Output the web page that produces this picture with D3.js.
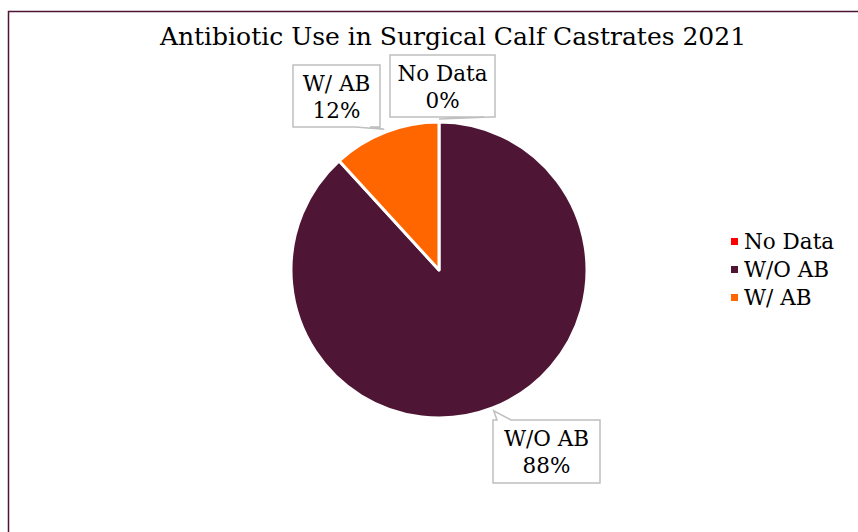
<!DOCTYPE html>
<html>
<head>
<meta charset="utf-8">
<script src="https://cdn.jsdelivr.net/npm/d3@7"></script>
<style>
  body { margin: 0; background: #fff; }
  text { font-family: "DejaVu Serif", "Liberation Serif", serif; fill: #000; }
</style>
</head>
<body>
<div id="chart"></div>
<script>
// Slice data, in the order the pie draws them (clockwise from 12 o'clock).
var categories = ["No Data", "W/O AB", "W/ AB"];
var shares = [0, 0.882, 0.118];
var colors = ["#FF0000", "#4E1535", "#FF6600"];

var width = 858, height = 532;
var cx = 439, cy = 270, radius = 148;

var svg = d3.select("#chart").append("svg")
  .attr("width", width)
  .attr("height", height);

// Outer chart frame (right and bottom run off the picture).
svg.append("rect")
  .attr("x", 8.5)
  .attr("y", 11.5)
  .attr("width", width + 10)
  .attr("height", height + 10)
  .attr("fill", "none")
  .attr("stroke", "#4E1535")
  .attr("stroke-width", 1.5);

svg.append("text")
  .attr("x", 453)
  .attr("y", 45)
  .attr("text-anchor", "middle")
  .style("font-size", "25px")
  .text("Antibiotic Use in Surgical Calf Castrates 2021");

var data = categories.map(function(c, i) {
  return { name: c, value: shares[i], color: colors[i] };
});

var pie = d3.pie().sort(null).value(function(d) { return d.value; });
var arc = d3.arc().innerRadius(0).outerRadius(radius);
var arcs = pie(data);

var g = svg.append("g")
  .attr("transform", "translate(" + cx + "," + cy + ")");

g.selectAll("path.slice")
  .data(arcs)
  .enter().append("path")
  .attr("class", "slice")
  .attr("d", arc)
  .attr("fill", function(d) { return d.data.color; })
  .attr("stroke", "#fff")
  .attr("stroke-width", function(d) { return d.value === 0 ? 5 : 3; })
  .attr("stroke-linejoin", "round");

// Callout boxes: where each box sits relative to the pie centre, and which edge the pointer leaves from.
var callouts = {
  "No Data": { x: -49, y: -215, w: 105, h: 62, edge: "bottom", b1: -11, b2: -4 },
  "W/ AB":   { x: -146, y: -205, w: 87, h: 62, edge: "bottom", b1: -25, b2: -10 },
  "W/O AB":  { x: 54, y: 150, w: 107, h: 63, edge: "top", b1: 4, b2: 18 }
};

var fmt = d3.format(".0%");

function calloutPath(c, tx, ty) {
  var x0 = c.x, y0 = c.y, x1 = c.x + c.w, y1 = c.y + c.h;
  var p = d3.path();
  if (c.edge === "top") {
    p.moveTo(x0, y0);
    p.lineTo(x0 + c.b1, y0);
    p.lineTo(tx, ty);
    p.lineTo(x0 + c.b2, y0);
    p.lineTo(x1, y0);
    p.lineTo(x1, y1);
    p.lineTo(x0, y1);
  } else {
    p.moveTo(x0, y0);
    p.lineTo(x1, y0);
    p.lineTo(x1, y1);
    p.lineTo(x1 + c.b2, y1);
    p.lineTo(tx, ty);
    p.lineTo(x1 + c.b1, y1);
    p.lineTo(x0, y1);
  }
  p.closePath();
  return p.toString();
}

arcs.forEach(function(d) {
  var c = callouts[d.data.name];
  var mid = (d.startAngle + d.endAngle) / 2;
  var tx = Math.sin(mid) * (radius + 3);
  var ty = -Math.cos(mid) * (radius + 3);
  var lab = g.append("g").attr("class", "callout");
  lab.append("path")
    .attr("d", calloutPath(c, tx, ty))
    .attr("fill", "#fff")
    .attr("stroke", "#BFBFBF")
    .attr("stroke-width", 1.5);
  var t = lab.append("text")
    .attr("text-anchor", "middle")
    .style("font-size", "21.5px");
  t.append("tspan")
    .attr("x", c.x + c.w / 2)
    .attr("y", c.y + 26)
    .text(d.data.name);
  t.append("tspan")
    .attr("x", c.x + c.w / 2)
    .attr("y", c.y + 53)
    .text(fmt(d.data.value));
});

// Legend
var legendY = d3.scalePoint()
  .domain(categories)
  .range([242, 298]);

var legend = svg.append("g").attr("class", "legend");
var item = legend.selectAll("g")
  .data(data)
  .enter().append("g")
  .attr("transform", function(d) { return "translate(731," + legendY(d.name) + ")"; });

item.append("rect")
  .attr("x", 0)
  .attr("y", -4)
  .attr("width", 7)
  .attr("height", 7)
  .attr("fill", function(d) { return d.color; });

item.append("text")
  .attr("x", 13)
  .attr("y", 7)
  .style("font-size", "21.5px")
  .text(function(d) { return d.name; });
</script>
</body>
</html>
